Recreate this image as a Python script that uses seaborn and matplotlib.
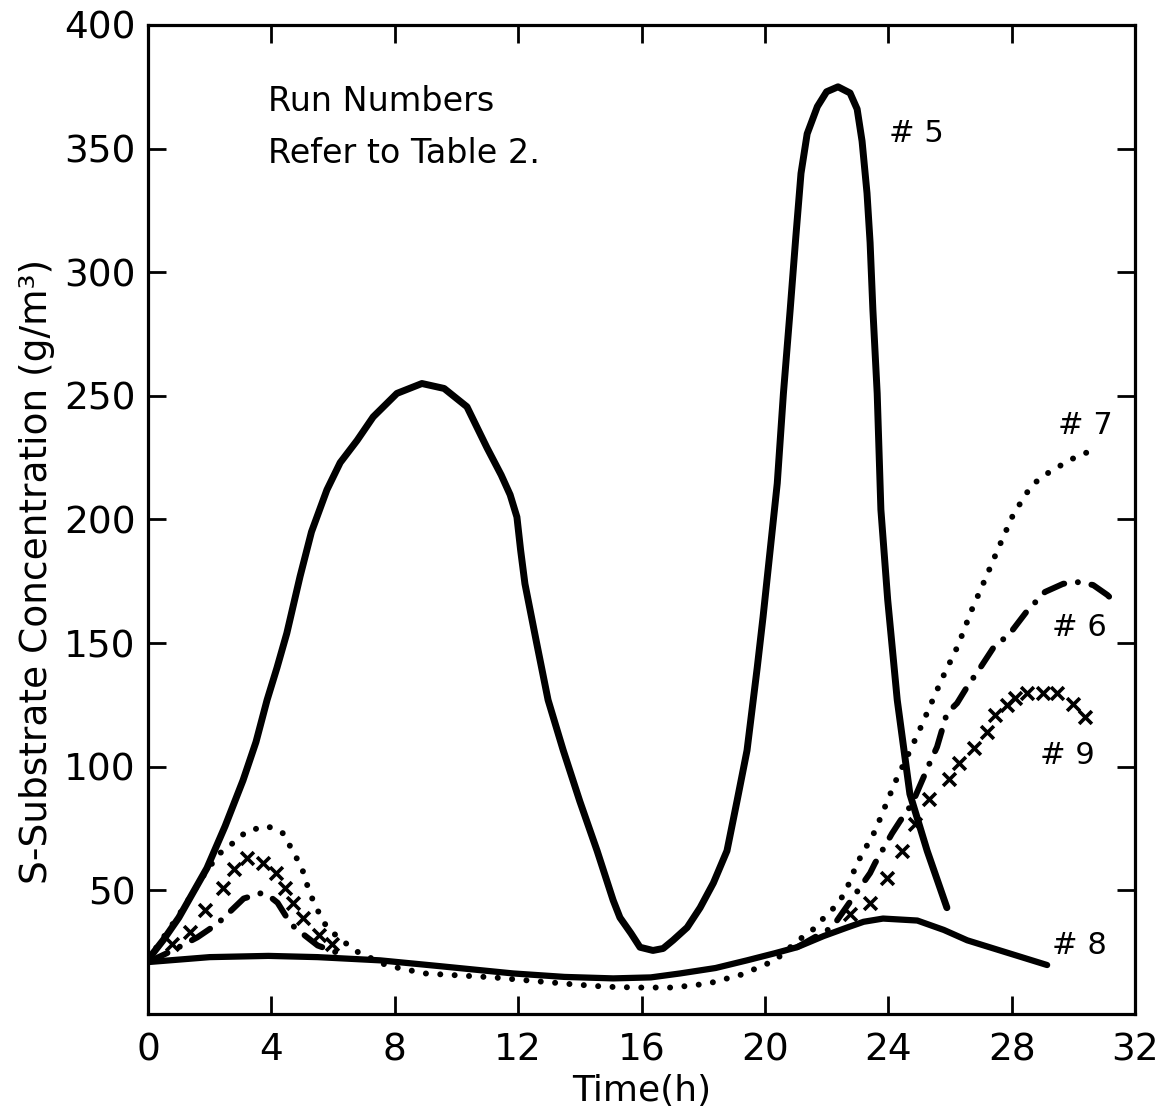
import matplotlib
matplotlib.use("Agg")
import matplotlib.pyplot as plt
import seaborn as sns

# ── Data ──────────────────────────────────────────────────────────────────────
# Run #5 (solid)
run5_t = [0, 0.5, 1.0, 1.91, 2.5, 3.08, 3.5, 3.86, 4.18, 4.5, 4.93, 5.3, 5.8,
          6.23, 6.78, 7.3, 8.07, 8.88, 9.6, 10.34, 10.99, 11.45, 11.74, 11.96,
          12.08, 12.22, 12.6, 12.97, 13.46, 14.0, 14.56, 15.08, 15.3, 15.66,
          15.95, 16.37, 16.7, 17.02, 17.48, 17.9, 18.33, 18.77, 19.1, 19.42,
          19.75, 19.94, 20.17, 20.4, 20.6, 20.82, 21.0, 21.17, 21.37, 21.7,
          22.0, 22.37, 22.76, 22.99, 23.15, 23.31, 23.41, 23.5, 23.64, 23.76,
          23.98, 24.29, 24.7, 25.26, 25.9]
run5_s = [22, 30, 39, 59, 76, 94.5, 110, 127, 140, 154, 177, 195, 212,
          223, 232, 241.5, 251, 255, 253, 245.6, 229, 218, 210, 201,
          187.6, 174, 150, 127, 106.7, 86, 66, 46, 39, 32.6,
          27, 25.7, 26.5, 29.8, 35, 43, 53, 66, 86.4, 106.6,
          140, 160.6, 187.6, 214.6, 251, 285, 314, 340, 356, 367,
          373, 375, 372.5, 366, 353, 332, 312, 285, 251, 204,
          167.6, 127, 89, 66, 43]

# Run #8 (solid)
run8_t = [0, 2.0, 3.9, 5.5, 7.52, 9.5, 11.84, 13.5, 15.08, 16.3, 17.25, 18.4,
          19.42, 20.3, 21.04, 21.9, 22.67, 23.2, 23.83, 24.94, 25.8, 26.56, 29.15]
run8_s = [21, 23, 23.5, 23, 21.7, 19.3, 16.4, 15.0, 14.4, 14.8, 16.4, 18.6,
          21.7, 24.5, 27, 31.5, 35, 37.3, 38.6, 37.8, 34, 29.8, 19.8]

# Run #7 (dotted)
run7_t = [0, 1.0, 1.9, 2.33, 2.79, 3.21, 3.86, 4.35, 4.67, 4.99, 5.19, 5.41,
          5.8, 6.26, 6.81, 7.75, 8.98, 11.19, 12.65, 13.78, 14.88, 15.89, 17.02,
          18.16, 19.26, 20.33, 21.08, 21.53, 21.89, 22.28, 22.6, 22.99, 23.57,
          24.22, 24.94, 25.75, 26.26, 26.69, 27.17, 27.59, 28.05, 28.63, 29.02,
          29.47, 29.83, 30.19, 30.58]
run7_s = [22, 40, 58, 65, 69.5, 74, 76, 73.5, 66.5, 59, 51, 44,
          35, 30, 25, 19.6, 16.4, 14.8, 13.2, 12, 11, 10.7, 10.7,
          12.3, 16, 21.7, 29.8, 33.8, 38.6, 43.5, 49, 61, 74,
          93.7, 112.8, 135.8, 149, 163, 176.7, 189, 202, 213.5, 217.6,
          221, 223.6, 226, 227.7]

# Run #6 (dash-dot), early hump and late rise
run6a_t = [0, 0.8, 1.6, 2.25, 3.1, 3.65, 3.9, 4.2, 4.5, 4.75, 5.5, 6.2]
run6a_s = [21, 25.7, 31, 36.5, 46.7, 48.8, 48, 45, 39, 35, 27.7, 24.5]
run6b_t = [21.04, 22.18, 23.41, 23.57, 24.12, 24.38, 24.77, 25.36, 25.58, 25.9,
           26.23, 26.56, 26.98, 27.4, 27.95, 28.5, 29.08, 29.67, 30.12, 30.64,
           31.1, 31.45]
run6b_s = [27, 35, 57, 61, 73, 78, 85, 102, 108, 121.6,
           125.7, 132.4, 140, 148, 154, 163, 170.7, 174, 174.7, 173.5,
           169.5, 165.4]

# Run #9 (x markers)
run9_t = [0.78, 1.36, 1.85, 2.43, 2.79, 3.21, 3.73, 4.15, 4.44, 4.7, 5.03, 5.54,
          5.97, 22.76, 23.41, 23.96, 24.45, 24.87, 25.32, 25.97, 26.3, 26.78,
          27.2, 27.46, 27.85, 28.11, 28.5, 29.02, 29.47, 29.99, 30.38]
run9_s = [28.5, 33, 42, 50.8, 58.5, 63, 61, 57, 50.8, 44.7, 39, 32,
          28.5, 40.6, 45, 55, 66, 77, 87, 95, 101.6, 107.5,
          114, 121, 125, 127.7, 129.8, 129.8, 129.8, 125.3, 120]

x_ticks = [0, 4, 8, 12, 16, 20, 24, 28, 32]
y_ticks = [50, 100, 150, 200, 250, 300, 350, 400]

run_labels = ["# 5", "# 7", "# 6", "# 9", "# 8"]
label_t = [24.9, 30.4, 30.2, 29.8, 30.2]
label_s = [356, 238, 156.5, 104.7, 27.7]

# ── Style ─────────────────────────────────────────────────────────────────────
sns.set_style("ticks")
plt.rcParams["font.family"] = ["DejaVu Sans"]
plt.rcParams["axes.linewidth"] = 2.3
for key in ["text.color", "axes.labelcolor", "xtick.color", "ytick.color",
            "axes.edgecolor"]:
    plt.rcParams[key] = "black"

fig = plt.figure(figsize=(11.71, 11.16), dpi=100)
ax = fig.add_axes([0.1264, 0.0914, 0.8429, 0.8862])

dashdot = (0, (3.6, 2.3, 0.01, 2.3))
sns.lineplot(x=run6a_t, y=run6a_s, ax=ax, color="black", lw=4.3,
             linestyle=dashdot, dash_capstyle="round")
sns.lineplot(x=run6b_t, y=run6b_s, ax=ax, color="black", lw=4.3,
             linestyle=dashdot, dash_capstyle="round")
sns.lineplot(x=run7_t, y=run7_s, ax=ax, color="black", lw=4.3,
             linestyle=(0, (0.01, 2.4)), dash_capstyle="round")
sns.scatterplot(x=run9_t, y=run9_s, ax=ax, color="black", marker="x",
                s=85, linewidth=2.6, zorder=3)
sns.lineplot(x=run8_t, y=run8_s, ax=ax, color="black", lw=4.5,
             solid_capstyle="round", solid_joinstyle="round", zorder=4)
sns.lineplot(x=run5_t, y=run5_s, ax=ax, color="black", lw=5,
             solid_capstyle="round", solid_joinstyle="round", zorder=4)

for lab, t, s in zip(run_labels, label_t, label_s):
    ax.text(t, s, lab, fontsize=22, ha="center", va="center")

ax.text(3.9, 369, "Run Numbers", fontsize=24, ha="left", va="center")
ax.text(3.9, 348, "Refer to Table 2.", fontsize=24, ha="left", va="center")

ax.set_xlim(0, 32)
ax.set_ylim(0, 400)
ax.set_xticks(x_ticks)
ax.set_yticks(y_ticks)
ax.tick_params(direction="in", length=13, width=2, labelsize=27,
               top=True, right=True)
ax.tick_params(axis="x", pad=13)
ax.tick_params(axis="y", pad=9)
ax.set_xlabel("Time(h)", fontsize=26, labelpad=4)
ax.set_ylabel("S-Substrate Concentration (g/m³)", fontsize=27)
ax.yaxis.set_label_coords(-0.094, 0.447)
for sp in ax.spines.values():
    sp.set_visible(True)

plt.savefig("out.png", dpi=100)
plt.close()
